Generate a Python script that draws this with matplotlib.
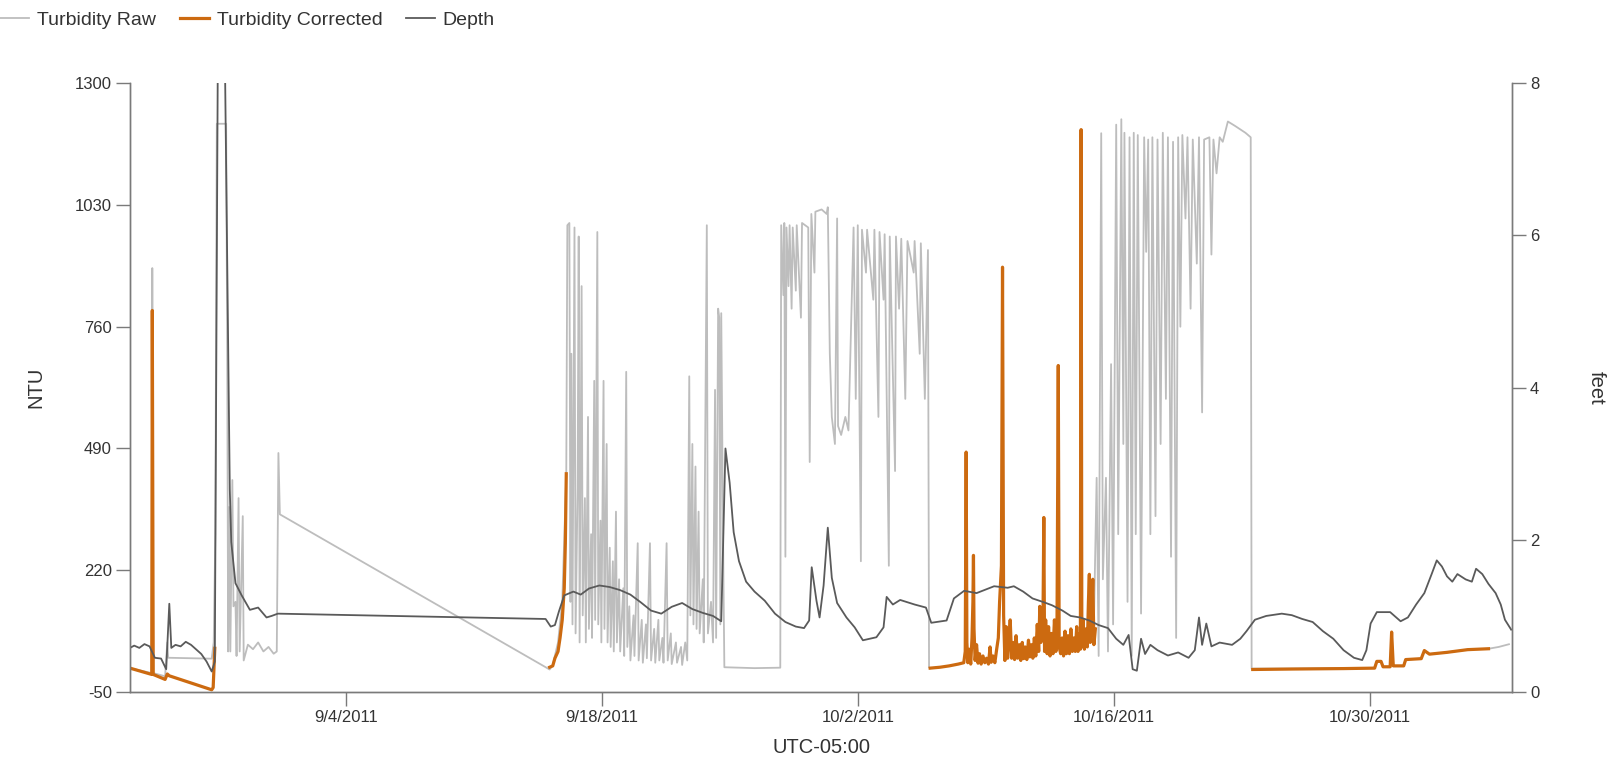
import matplotlib
matplotlib.use("Agg")
import matplotlib.pyplot as plt
import numpy as np
import pandas as pd

nan = np.nan
start = pd.Timestamp("2011-08-23")

# days after start
raw_days = [0.18, 1.37, 1.40, 1.45, 2.10, 2.22, 2.27, 4.65, 4.76, 4.85, 4.93, 5.44, 5.50, 5.55, 5.61, 5.67,
            5.78, 5.84, 5.95, 6.01, 6.12, 6.18, 6.35, 6.40, 6.63, 6.91, 7.19, 7.48, 7.76, 8.04, 8.21, 8.30,
            8.38, 23.14, 23.31, 23.60, 23.83, 24.05, 24.11, 24.22, 24.28, 24.33, 24.39, 24.50, 24.56, 24.67,
            24.73, 24.78, 24.89, 24.95, 25.07, 25.12, 25.24, 25.29, 25.41, 25.46, 25.58, 25.63, 25.75, 25.80,
            25.92, 25.97, 26.09, 26.14, 26.26, 26.31, 26.43, 26.48, 26.60, 26.65, 26.77, 26.82, 26.94, 27.00,
            27.17, 27.22, 27.33, 27.39, 27.50, 27.56, 27.73, 27.78, 27.96, 28.01, 28.18, 28.24, 28.41, 28.46,
            28.63, 28.69, 28.86, 28.92, 29.09, 29.14, 29.31, 29.37, 29.54, 29.60, 29.77, 29.82, 30.05, 30.11,
            30.33, 30.39, 30.56, 30.67, 30.78, 30.84, 30.95, 31.01, 31.12, 31.18, 31.29, 31.35, 31.52, 31.57,
            31.74, 31.80, 31.97, 32.08, 32.19, 32.25, 32.36, 32.42, 32.48, 32.53, 32.65, 32.70, 34.35, 35.76,
            35.81, 35.93, 35.98, 36.04, 36.10, 36.21, 36.27, 36.38, 36.44, 36.61, 36.66, 36.89, 36.95, 37.12,
            37.29, 37.37, 37.46, 37.63, 37.68, 38.02, 38.30, 38.36, 38.47, 38.58, 38.75, 38.87, 38.92, 39.09,
            39.32, 39.49, 39.66, 39.77, 39.89, 40.00, 40.17, 40.23, 40.45, 40.51, 40.85, 40.91, 41.13, 41.19,
            41.41, 41.47, 41.70, 41.75, 42.04, 42.09, 42.26, 42.38, 42.60, 42.72, 43.06, 43.11, 43.39, 43.45,
            43.67, 43.84, 43.90, 43.96, 43.97, 52.89, 52.90, 53.07, 53.18, 53.32, 53.41, 53.58,
            53.69, 53.86, 53.97, 54.14, 54.25,
            54.42, 54.53, 54.59, 54.76, 54.87, 54.99, 55.10, 55.21, 55.32, 55.50, 55.67, 55.78, 55.89, 56.01,
            56.12, 56.29, 56.40, 56.57, 56.69, 56.86, 56.97, 57.14, 57.25, 57.42, 57.53, 57.65, 57.76, 57.93,
            58.04, 58.21, 58.33, 58.55, 58.67, 58.84, 58.95, 59.24, 59.35, 59.46, 59.63, 59.80, 59.97, 60.25,
            60.65, 61.21, 61.50, 61.55, 63.75, 66.58, 68.28, 68.40, 68.63, 68.74, 69.13, 69.21, 69.30, 69.87,
            69.98, 70.83, 71.00, 71.28, 72.24, 73.37, 74.51, 75.07, 75.63]
raw_ntu = [3, -8, 890, -8, -15, 60, 26, 24, 60, 300, 1210, 1210, 700, 40, 360, 40,
           420, 140, 150, 30, 380, 40, 340, 20, 55, 45, 60, 40, 50, 35, 40, 480,
           344, 0, 10, 60, 150, 430, 985, 990, 150, 700, 100, 980, 80, 400,
           960, 60, 850, 120, 380, 60, 560, 90, 300, 70, 640, 110, 970, 100,
           330, 60, 640, 90, 500, 60, 270, 50, 240, 40, 350, 60, 200, 40,
           180, 30, 660, 50, 140, 20, 120, 30, 280, 20, 110, 15, 100, 25,
           280, 20, 90, 15, 110, 20, 70, 15, 280, 20, 80, 12, 60, 15,
           50, 10, 60, 20, 650, 120, 500, 100, 450, 90, 350, 80, 200, 60,
           985, 80, 150, 60, 620, 70, 800, 780, 100, 790, 200, 5, 3, 4,
           985, 830, 990, 250, 980, 850, 985, 800, 980, 840, 985, 780, 990, 985,
           980, 460, 1010, 880, 1015, 1020, 1010, 1025, 700, 560, 500, 1000, 540, 520,
           560, 530, 800, 980, 600, 985, 240, 975, 880, 975, 820, 975, 560, 970,
           820, 965, 230, 960, 440, 960, 800, 955, 600, 950, 880, 950, 700, 945,
           600, 930, 5, 3, nan, nan, 60, 425, 30, 1189, 200, 425,
           40, 677, 100, 1208, 300,
           1220, 500, 1190, 150, 1180, 30, 1190, 300, 1185, 124, 1180, 926, 1175, 300,
           1180, 340, 1175, 500, 1190, 600, 1180, 250, 1170, 70, 1180, 760, 1185, 1000,
           1180, 800, 1175, 900, 1180, 570, 1175, 1180, 920, 1175, 1100, 1180, 1170, 1215,
           1205, 1190, 1180, 2, 2, 3, 3, 18, 18, 6, 6, 83, 8, 8,
           22, 24, 42, 34, 38, 44, 46, 50, 56]

corr_days = [0.18, 1.37, 1.40, 1.45, 2.10, 2.22, 2.33, 4.65, 4.73, 4.82, 4.83,
             23.14, 23.31, 23.43, 23.60, 23.71, 23.83, 23.94, 24.00, 24.05, 24.06,
             43.96, 44.50, 45.00, 45.50, 45.80, 45.88, 45.93, 45.97, 46.02, 46.10, 46.18, 46.25,
             46.30, 46.33, 46.36, 46.42, 46.50, 46.58, 46.66, 46.75, 46.85, 46.95, 47.05, 47.15,
             47.24, 47.30, 47.40, 47.50, 47.60, 47.69, 47.76, 47.86, 47.92, 47.98, 48.05, 48.12,
             48.20, 48.28, 48.34, 48.42, 48.50, 48.58, 48.66, 48.75, 48.84, 48.92, 49.00, 49.08,
             49.16, 49.25, 49.34, 49.42, 49.50, 49.58, 49.66, 49.74, 49.82, 49.90, 49.96, 50.02,
             50.08, 50.13, 50.18, 50.22, 50.28, 50.36, 50.44, 50.52, 50.60, 50.68, 50.76, 50.84,
             50.90, 50.97, 51.02, 51.10, 51.18, 51.26, 51.34, 51.42, 51.50, 51.58, 51.66, 51.74,
             51.82, 51.90, 51.98, 52.05, 52.12, 52.18, 52.22, 52.26, 52.33, 52.40, 52.48, 52.56,
             52.62, 52.67, 52.72, 52.80, 52.86, 52.92, 53.00, 53.02,
             61.61, 63.75, 66.58, 68.28, 68.40, 68.63, 68.74, 69.13, 69.21, 69.30, 69.87, 69.98,
             70.83, 71.00, 71.28, 72.24, 73.37, 74.51]
corr_ntu = [3, -11, 796, -11, -22, -10, -14, -45, -40, 47, nan,
            5, 8, 25, 40, 70, 110, 180, 280, 434, nan,
            3, 5, 8, 12, 15, 40, 482, 60, 15, 45, 12, 70,
            150, 253, 90, 20, 55, 14, 35, 12, 30, 15, 25, 12,
            50, 16, 30, 15, 45, 70, 150, 230, 892, 120, 20, 95,
            25, 70, 110, 25, 60, 22, 75, 25, 55, 20, 60, 24,
            50, 22, 65, 28, 55, 25, 70, 30, 100, 40, 140, 60,
            130, 90, 337, 40, 110, 35, 95, 30, 80, 35, 110, 40,
            90, 674, 50, 35, 70, 30, 85, 35, 75, 35, 90, 40,
            70, 40, 95, 40, 80, 45, 1197, 50, 110, 45, 90, 50,
            150, 211, 60, 120, 200, 55, 90, nan,
            0, 1, 2, 3, 18, 18, 6, 6, 83, 8, 8, 22,
            24, 42, 34, 38, 44, 46]

depth_days = [0.18, 0.41, 0.69, 0.97, 1.25, 1.54, 1.88, 2.16, 2.33, 2.44, 2.67, 2.95, 3.23, 3.52, 3.80,
              4.08, 4.37, 4.65, 4.82, 4.99, 5.16, 5.36, 5.64, 5.72, 5.95, 6.29, 6.74, 7.19, 7.65, 7.93,
              8.27, 22.92, 23.20, 23.43, 23.65, 23.94, 24.44, 24.84, 25.29, 25.86, 26.42, 26.99, 27.56,
              28.12, 28.69, 29.25, 29.82, 30.39, 30.95, 31.52, 32.08, 32.53, 32.76, 32.99, 33.21, 33.50,
              33.89, 34.35, 34.91, 35.47, 36.04, 36.61, 37.06, 37.34, 37.48, 37.74, 37.91, 38.13, 38.36,
              38.58, 38.87, 39.38, 39.83, 40.28, 41.02, 41.41, 41.58, 41.92, 42.32, 43.11, 43.73, 44.02,
              44.86, 45.26, 45.82, 46.50, 47.46, 48.20, 48.54, 49.05, 49.56, 50.18, 50.63, 51.20, 51.65,
              52.16, 52.67, 53.18, 53.69, 54.14, 54.53, 54.82, 55.04, 55.27, 55.50, 55.72, 56.01, 56.40,
              56.97, 57.53, 58.10, 58.44, 58.67, 58.84, 59.07, 59.35, 59.80, 60.48, 60.93, 61.27, 61.73,
              62.35, 63.20, 63.75, 64.32, 64.89, 65.45, 66.02, 66.58, 67.15, 67.60, 67.83, 68.06, 68.40,
              69.13, 69.70, 70.10, 70.55, 71.00, 71.40, 71.68, 71.96, 72.24, 72.53, 72.81, 73.26, 73.60,
              73.83, 74.17, 74.51, 74.90, 75.18, 75.41, 75.75]
depth_ft = [0.58, 0.61, 0.58, 0.63, 0.60, 0.45, 0.44, 0.30, 1.16, 0.58, 0.62, 0.60, 0.66, 0.62, 0.56,
            0.50, 0.40, 0.27, 0.40, 8.6, 8.6, 8.6, 2.66, 1.97, 1.43, 1.27, 1.08, 1.11, 0.98, 1.00,
            1.03, 0.96, 0.86, 0.88, 1.06, 1.27, 1.32, 1.28, 1.36, 1.40, 1.38, 1.34, 1.28,
            1.18, 1.07, 1.03, 1.12, 1.17, 1.09, 1.04, 1.00, 0.93, 3.20, 2.75, 2.10, 1.72,
            1.45, 1.32, 1.20, 1.03, 0.92, 0.86, 0.84, 0.94, 1.64, 1.20, 0.98, 1.40, 2.16,
            1.50, 1.17, 0.98, 0.85, 0.68, 0.72, 0.85, 1.25, 1.15, 1.21, 1.15, 1.11, 0.91,
            0.94, 1.23, 1.33, 1.30, 1.39, 1.37, 1.39, 1.32, 1.23, 1.18, 1.14, 1.07, 1.00,
            0.98, 0.94, 0.88, 0.84, 0.70, 0.62, 0.75, 0.30, 0.28, 0.70, 0.50, 0.62, 0.55,
            0.48, 0.52, 0.45, 0.55, 0.98, 0.62, 0.90, 0.60, 0.65, 0.62, 0.70, 0.80, 0.95,
            1.00, 1.03, 1.01, 0.96, 0.92, 0.80, 0.70, 0.55, 0.45, 0.42, 0.55, 0.90, 1.05,
            1.05, 0.93, 0.98, 1.15, 1.30, 1.55, 1.73, 1.65, 1.52, 1.45, 1.55, 1.48, 1.45,
            1.62, 1.55, 1.42, 1.30, 1.15, 0.95, 0.82]

tick_dates = ["2011-09-04", "2011-09-18", "2011-10-02", "2011-10-16", "2011-10-30"]
tick_labels = ["9/4/2011", "9/18/2011", "10/2/2011", "10/16/2011", "10/30/2011"]
ntu_ticks = [-50, 220, 490, 760, 1030, 1300]
feet_ticks = [0, 2, 4, 6, 8]


def to_time(days):
    return start + pd.to_timedelta(days, unit="D")


plt.rcParams["font.family"] = ["Liberation Sans", "DejaVu Sans"]
plt.rcParams["axes.unicode_minus"] = False
axis_col = "#7a7a7a"
text_col = "#333333"

fig = plt.figure(figsize=(16.21, 7.63), dpi=100)
ax = fig.add_axes([0.0802, 0.093, 0.8526, 0.798])
ax2 = ax.twinx()

l1, = ax.plot(to_time(raw_days), raw_ntu, color="#bdbdbd", lw=1.3, label="Turbidity Raw")
l2, = ax.plot(to_time(corr_days), corr_ntu, color="#cc6a10", lw=2.3, label="Turbidity Corrected")
l3, = ax2.plot(to_time(depth_days), depth_ft, color="#5a5a5a", lw=1.3, label="Depth")

ax.set_xlim(to_time(0.18), to_time(75.80))
ax.set_ylim(-50, 1300)
ax2.set_ylim(0, 8)
ax.set_yticks(ntu_ticks)
ax2.set_yticks(feet_ticks)
ax.set_xticks(pd.to_datetime(tick_dates))
ax.set_xticklabels(tick_labels)

for a in (ax, ax2):
    a.spines["top"].set_visible(False)
    for s in ("left", "right", "bottom"):
        a.spines[s].set_color(axis_col)
        a.spines[s].set_linewidth(1.0)
    a.tick_params(length=10, width=1.0, color=axis_col, labelcolor=text_col, labelsize=12, pad=3)

ax.set_ylabel("NTU", fontsize=14.5, color=text_col, labelpad=21)
ax2.set_ylabel("feet", fontsize=14.5, color=text_col, rotation=270, labelpad=48)
ax.set_xlabel("UTC-05:00", fontsize=14.5, color=text_col, labelpad=9)

fig.legend(handles=[l1, l2, l3], loc="upper left", bbox_to_anchor=(-0.007, 1.0), ncol=3,
           frameon=False, fontsize=14, handlelength=1.5, columnspacing=1.2, handletextpad=0.4,
           borderaxespad=0.3, borderpad=0.3, labelcolor=text_col)

fig.savefig("out.png", dpi=100)
